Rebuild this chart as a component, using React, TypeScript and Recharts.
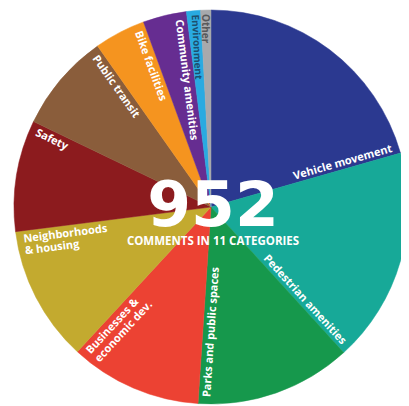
import { PieChart, Pie, Cell } from 'recharts';

const categories = [
  'Vehicle movement',
  'Pedestrian amenities',
  'Parks and public spaces',
  'Businesses & economic dev.',
  'Neighborhoods & housing',
  'Safety',
  'Public transit',
  'Bike facilities',
  'Community amenities',
  'Environment',
  'Other',
];
const comments = [196, 168, 122, 103, 106, 87, 77, 40, 34, 11, 8];
const labelLines = [
  ['Vehicle movement'],
  ['Pedestrian amenities'],
  ['Parks and public spaces'],
  ['Businesses &', 'economic dev.'],
  ['Neighborhoods', '& housing'],
  ['Safety'],
  ['Public transit'],
  ['Bike facilities'],
  ['Community amenities'],
  ['Environment'],
  ['Other'],
];
const sliceColors = [
  '#2b3990', '#17a998', '#16984c', '#ec4233', '#c3aa2f', '#8c1b1e',
  '#8a5d3b', '#f5941f', '#662d91', '#29aae1', '#a7a9ac',
];
const textColors = [
  '#fff', '#fff', '#fff', '#fff', '#fff', '#fff',
  '#fff', '#fff', '#fff', '#1d4f6e', '#58595b',
];

const total = comments.reduce((a, b) => a + b, 0);
const data = categories.map((name, i) => ({ name, value: comments[i] }));

const FONT = '"Open Sans", "DejaVu Sans", sans-serif';

// eslint-disable-next-line @typescript-eslint/no-explicit-any
function SliceLabel(props: any) {
  const { cx, cy, outerRadius, index } = props;
  const cum = comments.slice(0, index + 1).reduce((a, b) => a + b, 0);
  const endAngle = props.endAngle ?? 90 - (cum / total) * 360;
  const cw = 90 - endAngle; // clockwise degrees from 12 o'clock
  const outward = cw < 180;
  const rot = outward ? cw - 90 : cw + 90;
  const thin = index >= 9;
  const fs = thin ? 10 : 11;
  const gap = thin ? 1.5 : 3.5;
  const r = outerRadius - (thin ? 4 : 7);
  return (
    <g transform={`translate(${cx},${cy}) rotate(${rot})`}>
      {labelLines[index].map((t, i) =>
        outward ? (
          <text key={i} x={r} y={-gap - i * 12} textAnchor="end" fill={textColors[index]}
            fontSize={fs} fontWeight="bold" fontFamily={FONT}>
            {t}
          </text>
        ) : (
          <text key={i} x={-r} y={gap + fs * 0.75 + i * 12} textAnchor="start" fill={textColors[index]}
            fontSize={fs} fontWeight="bold" fontFamily={FONT}>
            {t}
          </text>
        ),
      )}
    </g>
  );
}

export default function App() {
  return (
    <div style={{ position: 'relative', width: 401, height: 398 }}>
      <PieChart width={401} height={398} margin={{ top: 0, right: 0, bottom: 0, left: 0 }}>
        <Pie
          data={data}
          dataKey="value"
          nameKey="name"
          cx={203}
          cy={199}
          outerRadius={197}
          startAngle={90}
          endAngle={-270}
          label={SliceLabel}
          labelLine={false}
          isAnimationActive={false}
        >
          {data.map((_, i) => (
            <Cell key={i} fill={sliceColors[i]} stroke={sliceColors[i]} strokeWidth={0.5} />
          ))}
        </Pie>
      </PieChart>
      <svg width={401} height={398} style={{ position: 'absolute', left: 0, top: 0, pointerEvents: 'none' }}>
        <text x={205} y={218} textAnchor="middle" fill="#fff" fontSize={63} fontWeight="bold"
          fontFamily='"DejaVu Sans", sans-serif'>
          {total}
        </text>
        <text x={205} y={237} textAnchor="middle" fill="#fff" fontSize={11.5} fontWeight="bold"
          fontFamily={FONT}>
          COMMENTS IN 11 CATEGORIES
        </text>
      </svg>
    </div>
  );
}
